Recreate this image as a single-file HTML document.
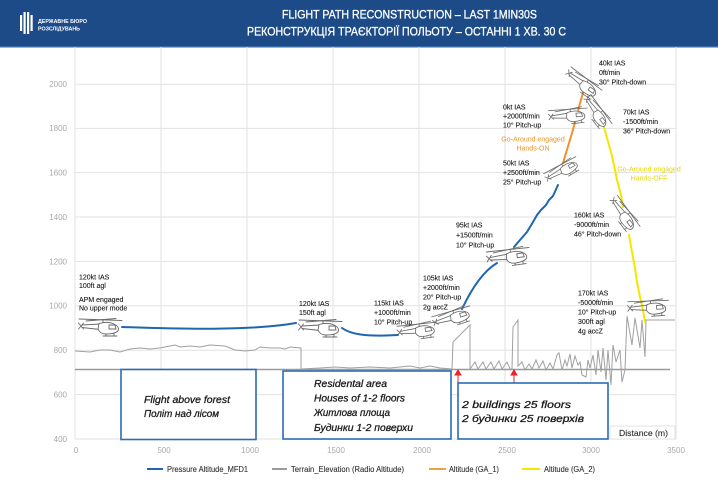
<!DOCTYPE html>
<html><head><meta charset="utf-8"><style>
html,body{margin:0;padding:0;background:#fff;}
svg{display:block;}
text{font-family:"Liberation Sans","DejaVu Sans",sans-serif;}
</style></head><body>
<svg width="718" height="490" viewBox="0 0 718 490" xmlns="http://www.w3.org/2000/svg">
<defs>
<g id="heli" fill="none" stroke="#6a6a6a" stroke-width="0.9" stroke-linecap="round">
<line x1="-21" y1="-7" x2="22" y2="-5.5"/>
<line x1="-14" y1="-5" x2="16" y2="-7.5"/>
<line x1="3" y1="-6" x2="3" y2="-3"/>
<path d="M-18,-1 L0,-2 M-18,1.5 L0,3.5"/>
<path d="M-21.5,-3 L-16.5,3 M-21.5,3 L-16.5,-3"/>
<path d="M-1,-2.5 Q8,-5 14,-2 Q20,1 18,5 Q15,8 6,8 Q0,8 -2,3 Z" fill="#fff"/>
<path d="M9,-1 L15,-1 L16,3 L9,3 Z"/>
<line x1="3" y1="10" x2="17" y2="10"/>
<line x1="6" y1="8" x2="6" y2="10"/><line x1="14" y1="7" x2="14" y2="10"/>
</g>
</defs>

<!-- header -->
<rect x="0" y="0" width="718" height="47" fill="#1c4b88"/>
<rect x="0" y="46" width="718" height="1.5" fill="#3a6aa6"/>
<g fill="#fff">
<rect x="20" y="15" width="2.2" height="16"/>
<rect x="23.5" y="12" width="2.2" height="22"/>
<rect x="27" y="12" width="2.2" height="22"/>
<rect x="30.5" y="15" width="2.2" height="16"/>
</g>
<text x="38" y="23" font-size="5.6" fill="#fff" font-weight="bold" textLength="49" lengthAdjust="spacingAndGlyphs">ДЕРЖАВНЕ БЮРО</text>
<text x="38" y="30.5" font-size="5.6" fill="#fff" font-weight="bold" textLength="42" lengthAdjust="spacingAndGlyphs">РОЗСЛІДУВАНЬ</text>
<text x="282" y="18.5" font-size="12" fill="#fff" stroke="#fff" stroke-width="0.3" textLength="255" lengthAdjust="spacingAndGlyphs">FLIGHT PATH RECONSTRUCTION – LAST 1MIN30S</text>
<text x="247" y="35.5" font-size="12" fill="#fff" stroke="#fff" stroke-width="0.3" textLength="319" lengthAdjust="spacingAndGlyphs">РЕКОНСТРУКЦІЯ ТРАЄКТОРІЇ ПОЛЬОТУ – ОСТАННІ 1 ХВ. 30 С</text>

<!-- grid -->
<g stroke="#e2e2e2" stroke-width="1">
<line x1="75" y1="47" x2="75" y2="439"/>
<line x1="161" y1="47" x2="161" y2="439"/>
<line x1="247" y1="47" x2="247" y2="439"/>
<line x1="333" y1="47" x2="333" y2="439"/>
<line x1="419" y1="47" x2="419" y2="439"/>
<line x1="505" y1="47" x2="505" y2="439"/>
<line x1="591" y1="47" x2="591" y2="439"/>
<line x1="676" y1="47" x2="676" y2="439"/>
<line x1="75" y1="84.3" x2="676" y2="84.3"/>
<line x1="75" y1="128.4" x2="676" y2="128.4"/>
<line x1="75" y1="172.6" x2="676" y2="172.6"/>
<line x1="75" y1="217" x2="676" y2="217"/>
<line x1="75" y1="261.4" x2="676" y2="261.4"/>
<line x1="75" y1="305.8" x2="676" y2="305.8"/>
<line x1="75" y1="350.2" x2="676" y2="350.2"/>
<line x1="75" y1="394.6" x2="676" y2="394.6"/>
<line x1="75" y1="439" x2="676" y2="439"/>
</g>
<g font-size="8" fill="#a8a8a8" text-anchor="end">
<text x="67" y="87">2000</text>
<text x="67" y="131">1800</text>
<text x="67" y="175.5">1600</text>
<text x="67" y="220">1400</text>
<text x="67" y="264.5">1200</text>
<text x="67" y="308.5">1000</text>
<text x="67" y="353">800</text>
<text x="67" y="397.5">600</text>
<text x="67" y="442">400</text>
</g>
<g font-size="8" fill="#a8a8a8" text-anchor="middle">
<text x="76" y="453">0</text>
<text x="164" y="453">500</text>
<text x="250" y="453">1000</text>
<text x="336" y="453">1500</text>
<text x="422" y="453">2000</text>
<text x="507" y="453">2500</text>
<text x="591" y="453">3000</text>
<text x="676" y="453">3500</text>
</g>

<!-- terrain baseline -->
<line x1="75" y1="369.5" x2="670" y2="369.5" stroke="#9a9a9a" stroke-width="1.6"/>
<!-- terrain -->
<path fill="none" stroke="#a0a0a0" stroke-width="1" d="M75,351 L90,352 L100,350 L110,350 L120,352 L130,349 L140,348 L150,349 L160,348 L170,346 L175,345 L180,347 L190,346 L200,347 L210,345 L225,346 L235,350 L245,351 L255,350 L260,347 L270,348 L280,348 L285,349 L290,347 L301,348 L301,369 L320,368 L335,367 L350,368 L370,367 L390,368 L410,366 L420,368 L430,366 L440,368 L452,369 L453,342 L470,325 L470,369 L475,362 L478,369 L483,362 L486,369 L491,362 L494,369 L499,361 L502,369 L507,362 L510,369 L512,369 L513,327 L518,320 L518,366 L522,362 L525,370 L529,364 L532,369 L536,360 L539,368 L543,361 L546,370 L550,363 L553,369 L557,355 L559,353 L562,370 L565,360 L567,366 L570,354 L572,368 L575,356 L578,365 L580,362 L582,375 L586,377 L588,360 L590,368 L593,355 L596,375 L598,350 L601,372 L603,348 L606,380 L608,350 L611,385 L613,345 L616,362 L620,350 L622,382 L625,370 L627,316 L632,345 L635,318 L640,348 L642,320 L645,357 L646,320 L675,320"/>

<!-- red arrows -->
<g stroke="#e8262b" fill="#e8262b" stroke-width="1">
<line x1="458" y1="383" x2="458" y2="374"/><path d="M455,375 L458,370 L461,375 Z"/>
<line x1="514" y1="383" x2="514" y2="374"/><path d="M511,375 L514,370 L517,375 Z"/>
</g>

<!-- boxes -->
<g fill="#fff" stroke="#2a6db5" stroke-width="1.6">
<rect x="121" y="369.5" width="135" height="70"/>
<rect x="283" y="371" width="168" height="68"/>
<rect x="458" y="383" width="150" height="56"/>
</g>
<g font-size="10.5" font-style="italic" fill="#1a1a1a" stroke="#1a1a1a" stroke-width="0.3">
<text x="144" y="403" textLength="86" lengthAdjust="spacingAndGlyphs">Flight above forest</text>
<text x="144" y="417" textLength="75" lengthAdjust="spacingAndGlyphs">Політ над лісом</text>
<text x="314" y="387" textLength="73" lengthAdjust="spacingAndGlyphs">Residental area</text>
<text x="314" y="401.5" textLength="91" lengthAdjust="spacingAndGlyphs">Houses of 1-2 floors</text>
<text x="314" y="416" textLength="76" lengthAdjust="spacingAndGlyphs">Житлова площа</text>
<text x="314" y="431" textLength="99" lengthAdjust="spacingAndGlyphs">Будинки 1-2 поверхи</text>
<text x="462" y="408" textLength="109" lengthAdjust="spacingAndGlyphs">2 buildings 25 floors</text>
<text x="462" y="422" textLength="122" lengthAdjust="spacingAndGlyphs">2 будинки 25 поверхів</text>
</g>
<rect x="610" y="426" width="65" height="13" fill="#fff" stroke="#dddddd" stroke-width="0.8"/>
<text x="619" y="436" font-size="8.5" fill="#333" stroke="#333" stroke-width="0.15" textLength="49" lengthAdjust="spacingAndGlyphs">Distance (m)</text>

<!-- series -->
<g fill="none" stroke-width="2" stroke-linecap="round" stroke-linejoin="round">
<path stroke="#1f66b0" d="M122,327 C180,329 250,331 296,323"/>
<path stroke="#1f66b0" d="M342,328 C350,334 365,337 398,335"/>
<path stroke="#1f66b0" d="M462,309 C470,292 482,272 497,263"/>
<path stroke="#1f66b0" d="M514,247 L520,240 L527,232 L533,222 L537,215 L541,210 L546,205 L549,200 L553,196 L558,185"/>
<path stroke="#f0922b" d="M563,163 L566,153 L569,143 L572,133 L574,126 L576,119 L578,111 L580,103 L583,93"/>
<path stroke="#f5e600" d="M604,127 L607,138 L611,152 L614,165 L617,180 L621,195 L623,207"/>
<path stroke="#f5e600" d="M629,235 L632,252 L635,268 L637,282 L640,297 L643,310 L645,322"/>
</g>

<!-- helicopters -->
<use href="#heli" transform="translate(100,326)"/>
<use href="#heli" transform="translate(320,327)"/>
<use href="#heli" transform="translate(417,330) rotate(-8) scale(0.92)"/>
<use href="#heli" transform="translate(452,317) rotate(-18) scale(0.92)"/>
<use href="#heli" transform="translate(508,256) rotate(-8)"/>
<use href="#heli" transform="translate(562,170) rotate(-30) scale(0.85)"/>
<use href="#heli" transform="translate(568,115) rotate(-6) scale(0.9)"/>
<use href="#heli" transform="translate(583,83) rotate(35) scale(0.9)"/>
<use href="#heli" transform="translate(597,112) rotate(52) scale(0.85)"/>
<use href="#heli" transform="translate(624,214) rotate(52) scale(0.9)"/>
<use href="#heli" transform="translate(648,307) rotate(-4) scale(0.95)"/>

<!-- annotations -->
<g font-size="7" fill="#1a1a1a" stroke="#1a1a1a" stroke-width="0.12">
<text x="79" y="279.5">120kt IAS</text>
<text x="79" y="288">100ft agl</text>
<text x="79" y="302">APM engaged</text>
<text x="79" y="310.5">No upper mode</text>
<text x="299" y="306">120kt IAS</text>
<text x="299" y="315">150ft agl</text>
<text x="374" y="305.5">115kt IAS</text>
<text x="374" y="315">+1000ft/min</text>
<text x="374" y="324.5">10° Pitch-up</text>
<text x="423" y="280.5">105kt IAS</text>
<text x="423" y="290">+2000ft/min</text>
<text x="423" y="299.5">20° Pitch-up</text>
<text x="423" y="309.5">2g accZ</text>
<text x="456" y="227.5">95kt IAS</text>
<text x="456" y="237.5">+1500ft/min</text>
<text x="456" y="247.5">10° Pitch-up</text>
<text x="503" y="165.5">50kt IAS</text>
<text x="503" y="175">+2500ft/min</text>
<text x="503" y="184.5">25° Pitch-up</text>
<text x="503" y="109.5">0kt IAS</text>
<text x="503" y="118.5">+2000ft/min</text>
<text x="503" y="127.5">10° Pitch-up</text>
<text x="599" y="65.5">40kt IAS</text>
<text x="599" y="75">0ft/min</text>
<text x="599" y="84.5">30° Pitch-down</text>
<text x="623" y="114.5">70kt IAS</text>
<text x="623" y="124">-1500ft/min</text>
<text x="623" y="133.5">36° Pitch-down</text>
<text x="574" y="217.5">160kt IAS</text>
<text x="574" y="227">-9000ft/min</text>
<text x="574" y="236.5">46° Pitch-down</text>
<text x="578" y="295.5">170kt IAS</text>
<text x="578" y="305">-5000ft/min</text>
<text x="578" y="314.5">10° Pitch-up</text>
<text x="578" y="324">300ft agl</text>
<text x="578" y="333.5">4g accZ</text>
</g>
<g font-size="7" text-anchor="middle">
<text x="533" y="141.5" fill="#e8962e">Go-Around engaged</text>
<text x="533" y="150.5" fill="#e8962e">Hands-ON</text>
<text x="649" y="171.5" fill="#e6d800">Go-Around engaged</text>
<text x="649" y="180.5" fill="#e6d800">Hands-OFF</text>
</g>

<!-- legend -->
<g stroke-width="2">
<line x1="147" y1="469" x2="163" y2="469" stroke="#1f66b0"/>
<line x1="272" y1="469" x2="287" y2="469" stroke="#9a9a9a"/>
<line x1="429" y1="469" x2="446" y2="469" stroke="#f0a040"/>
<line x1="522" y1="469" x2="540" y2="469" stroke="#f5e600"/>
</g>
<g font-size="8" fill="#333" stroke="#333" stroke-width="0.12">
<text x="167" y="472" textLength="81" lengthAdjust="spacingAndGlyphs">Pressure Altitude_MFD1</text>
<text x="291" y="472" textLength="113" lengthAdjust="spacingAndGlyphs">Terrain_Elevation (Radio Altitude)</text>
<text x="449" y="472" textLength="50" lengthAdjust="spacingAndGlyphs">Altitude (GA_1)</text>
<text x="544" y="472" textLength="51" lengthAdjust="spacingAndGlyphs">Altitude (GA_2)</text>
</g>
</svg>
</body></html>
